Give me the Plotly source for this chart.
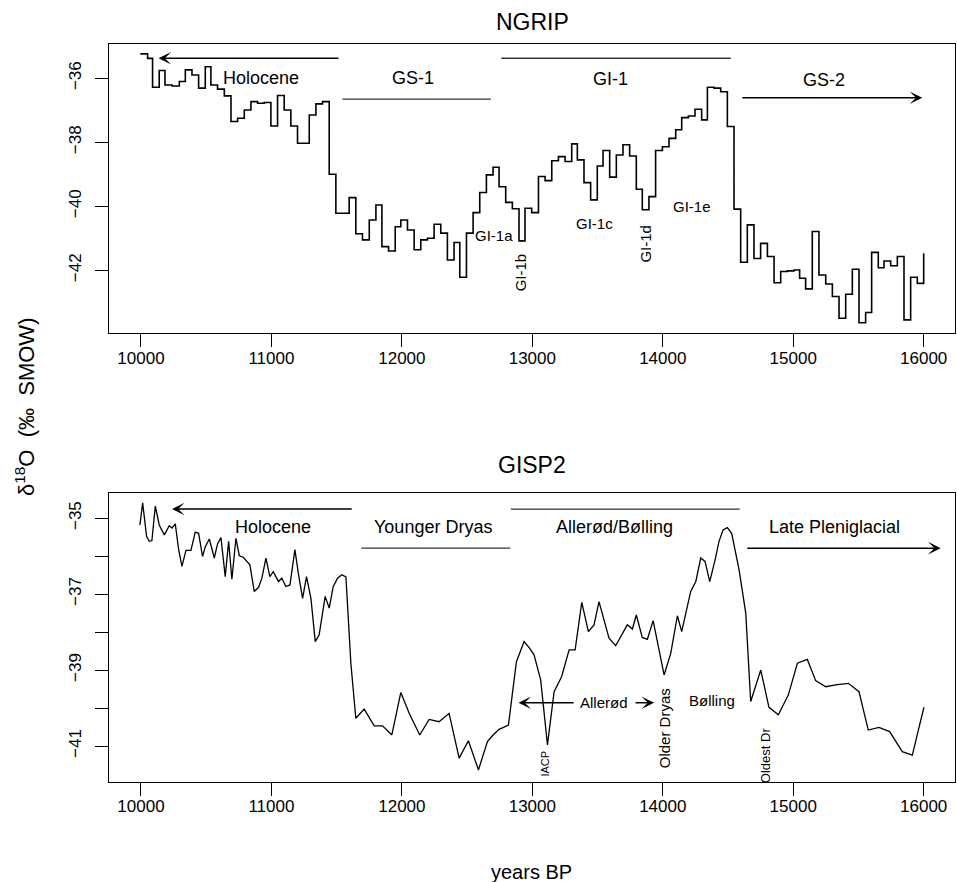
import plotly.graph_objects as go

# ---------------- data ----------------
# NGRIP step series: start year of each step and its d18O value
ngrip_years = [9995, 10051, 10089, 10140, 10184, 10238, 10294, 10340, 10391, 10442,
               10493, 10536, 10587, 10639, 10690, 10741, 10792, 10843, 10894, 10945,
               10996, 11047, 11098, 11149, 11200, 11290, 11341, 11392, 11443, 11494,
               11596, 11647, 11698, 11750, 11801, 11847, 11898, 11949, 11992, 12043,
               12094, 12145, 12196, 12247, 12298, 12349, 12400, 12444, 12495, 12546,
               12597, 12648, 12699, 12745, 12796, 12847, 12898, 12944, 12995, 13047,
               13098, 13149, 13200, 13251, 13302, 13345, 13396, 13447, 13498, 13542,
               13593, 13644, 13695, 13746, 13797, 13843, 13894, 13945, 13997, 14048,
               14099, 14145, 14196, 14247, 14298, 14342, 14393, 14444, 14495, 14546,
               14597, 14648, 14699, 14750, 14802, 14853, 14904, 14955, 15006, 15049,
               15095, 15146, 15197, 15249, 15300, 15351, 15402, 15453, 15504, 15555,
               15601, 15652, 15696, 15747, 15798, 15849, 15900, 15951, 16000]
ngrip_d18o = [-35.24, -35.38, -36.28, -35.76, -36.21, -36.24, -36.10, -35.74, -35.90, -36.31,
              -35.64, -36.21, -36.34, -36.55, -37.35, -37.25, -36.99, -36.73, -36.78, -36.76,
              -37.49, -36.54, -36.99, -37.49, -38.03, -37.15, -36.80, -36.73, -39.00, -40.22,
              -39.73, -40.86, -41.05, -40.43, -39.96, -41.26, -41.40, -40.64, -40.43, -40.74,
              -41.36, -41.05, -41.00, -40.56, -40.84, -41.68, -41.13, -42.22, -40.84, -40.20,
              -39.57, -39.02, -38.78, -39.39, -39.88, -40.08, -41.08, -40.06, -40.20, -39.07,
              -39.20, -38.58, -38.45, -38.60, -38.05, -38.55, -39.26, -39.80, -38.74, -38.26,
              -39.09, -38.40, -38.08, -38.43, -39.47, -40.11, -39.70, -38.26, -38.14, -37.88,
              -37.61, -37.23, -37.18, -36.97, -37.30, -36.28, -36.31, -36.42, -37.51, -40.09,
              -41.75, -40.58, -41.63, -41.16, -41.57, -42.39, -42.04, -42.02, -41.99, -42.25,
              -42.58, -40.79, -42.15, -42.43, -42.82, -43.50, -42.75, -41.97, -43.64, -43.32,
              -41.44, -41.92, -41.71, -41.86, -41.57, -43.55, -42.22, -42.41, -41.47]

# GISP2 series
gisp_years = [9992, 10013, 10043, 10064, 10084, 10110, 10140, 10179, 10217, 10238,
              10263, 10289, 10314, 10345, 10383, 10416, 10442, 10472, 10493, 10524,
              10562, 10587, 10613, 10646, 10672, 10697, 10728, 10754, 10784, 10835,
              10868, 10902, 10927, 10958, 10988, 11014, 11034, 11055, 11080, 11111,
              11142, 11180, 11208, 11239, 11269, 11303, 11336, 11366, 11412, 11443,
              11474, 11507, 11540, 11571, 11609, 11647, 11711, 11788, 11852, 11923,
              11992, 12056, 12137, 12209, 12285, 12362, 12439, 12510, 12587, 12656,
              12699, 12745, 12817, 12878, 12937, 12980, 13013, 13064, 13116, 13167,
              13225, 13282, 13328, 13379, 13430, 13473, 13511, 13588, 13639, 13690,
              13728, 13767, 13797, 13843, 13882, 13926, 13967, 14010, 14061, 14112,
              14145, 14176, 14214, 14253, 14291, 14324, 14360, 14401, 14431, 14462,
              14495, 14528, 14585, 14636, 14674, 14751, 14814, 14886, 14962, 15032,
              15108, 15172, 15249, 15325, 15422, 15504, 15575, 15657, 15739, 15836,
              15913, 15959, 16002]
gisp_d18o = [-35.18, -34.60, -35.48, -35.61, -35.59, -34.68, -35.18, -35.44, -35.20, -35.26,
             -35.15, -35.83, -36.27, -35.85, -35.85, -35.37, -35.40, -36.01, -35.75, -35.55,
             -36.05, -35.68, -35.51, -36.54, -35.61, -36.61, -35.53, -35.99, -36.03, -36.23,
             -36.93, -36.82, -36.58, -36.05, -36.54, -36.41, -36.54, -36.67, -36.58, -36.80,
             -36.76, -35.83, -36.49, -37.11, -36.54, -37.11, -38.25, -38.07, -37.06, -37.37,
             -36.80, -36.58, -36.49, -36.55, -38.82, -40.27, -40.03, -40.47, -40.47, -40.71,
             -39.59, -40.14, -40.71, -40.30, -40.36, -40.14, -41.32, -40.86, -41.63, -40.88,
             -40.71, -40.56, -40.45, -38.78, -38.25, -38.43, -38.60, -39.26, -40.97, -39.57,
             -39.17, -38.47, -38.47, -37.22, -37.99, -37.81, -37.20, -38.16, -38.36, -38.03,
             -37.81, -37.92, -37.55, -38.14, -38.19, -37.70, -38.43, -39.13, -38.56, -37.57,
             -37.99, -37.50, -36.93, -36.67, -36.05, -36.14, -36.67, -36.10, -35.61, -35.31,
             -35.25, -35.40, -36.36, -37.50, -39.83, -39.00, -39.98, -40.18, -39.66, -38.82,
             -38.72, -39.28, -39.44, -39.39, -39.35, -39.57, -40.58, -40.51, -40.62, -41.15,
             -41.24, -40.58, -39.98]

x_ticks = [10000, 11000, 12000, 13000, 14000, 15000, 16000]
x_ticktext = ["10000", "11000", "12000", "13000", "14000", "15000", "16000"]
ngrip_yticks = [-36, -38, -40, -42]
ngrip_yticktext = ["\u221236", "\u221238", "\u221240", "\u221242"]
gisp_yticks = [-35, -36, -37, -38, -39, -40, -41]
gisp_yticktext = ["\u221235", "", "\u221237", "", "\u221239", "", "\u221241"]

# labels: (text, year, value, angle, size)
ngrip_labels = [("Holocene", 10920, -36.0, 0, 18), ("GS-1", 12083, -36.0, 0, 18),
                ("GI-1", 13601, -36.03, 0, 18), ("GS-2", 15236, -36.05, 0, 18),
                ("GI-1a", 12707, -40.90, 0, 15), ("GI-1b", 12912, -42.07, -90, 15),
                ("GI-1c", 13474, -40.53, 0, 15), ("GI-1d", 13865, -41.16, -90, 15),
                ("GI-1e", 14222, -40.01, 0, 15)]
gisp_labels = [("Holocene", 11014, -35.24, 0, 18), ("Younger Dryas", 12240, -35.24, 0, 18),
               ("Allerød/Bølling", 13627, -35.24, 0, 18), ("Late Pleniglacial", 15313, -35.24, 0, 18),
               ("Allerød", 13548, -39.86, 0, 15), ("IACP", 13098, -41.46, -90, 11),
               ("Older Dryas", 14010, -40.53, -90, 15), ("Bølling", 14380, -39.81, 0, 15),
               ("Oldest Dr", 14784, -41.24, -90, 13)]
# arrows: (tail year, tip year, value)
ngrip_arrows = [(11525, 10135, -35.375), (14598, 15989, -36.61)]
gisp_arrows = [(11627, 10238, -34.76), (14636, 16130, -35.79),
               (13328, 12894, -39.86), (13780, 13933, -39.86)]
# plain period bars: (start year, end year, value)
ngrip_bars = [(11545, 12682, -36.65), (12763, 14521, -35.375)]
gisp_bars = [(11690, 12830, -35.79), (12835, 14590, -34.76)]

# ---------------- figure ----------------
FONT = "Liberation Sans, Arial, sans-serif"
W, H = 957, 882
fig = go.Figure()

fig.add_trace(go.Scatter(x=ngrip_years, y=ngrip_d18o, mode="lines", line_shape="hv",
                         line=dict(color="black", width=1.6), xaxis="x", yaxis="y",
                         showlegend=False, hoverinfo="skip"))
fig.add_trace(go.Scatter(x=gisp_years, y=gisp_d18o, mode="lines",
                         line=dict(color="black", width=1.3), xaxis="x2", yaxis="y2",
                         showlegend=False, hoverinfo="skip"))

xdom = [109 / W, 955 / W]
axis_common = dict(showline=True, mirror=True, linecolor="black", linewidth=1.2,
                   ticks="outside", ticklen=13, tickwidth=1.2, tickcolor="black",
                   showgrid=False, zeroline=False,
                   tickfont=dict(family=FONT, size=17, color="black"))
fig.update_layout(
    width=W, height=H, autosize=False,
    margin=dict(l=0, r=0, t=0, b=0),
    paper_bgcolor="white", plot_bgcolor="white",
    xaxis=dict(domain=xdom, range=[9755, 16240], tickvals=x_ticks, ticktext=x_ticktext,
               anchor="y", ticklabelstandoff=-4, **axis_common),
    yaxis=dict(domain=[1 - 333 / H, 1 - 44 / H], range=[-43.96, -34.93],
               tickvals=ngrip_yticks, ticktext=ngrip_yticktext, tickangle=-90, anchor="x",
               ticklabelstandoff=7, **axis_common),
    xaxis2=dict(domain=xdom, range=[9755, 16240], tickvals=x_ticks, ticktext=x_ticktext,
                anchor="y2", ticklabelstandoff=-4, **axis_common),
    yaxis2=dict(domain=[1 - 781.7 / H, 1 - 492.7 / H], range=[-41.94, -34.33],
                tickvals=gisp_yticks, ticktext=gisp_yticktext, tickangle=-90, anchor="x2",
                ticklabelstandoff=7, **axis_common),
)

ann = []
for labels, xr, yr in ((ngrip_labels, "x", "y"), (gisp_labels, "x2", "y2")):
    for t, xv, yv, ang, sz in labels:
        ann.append(dict(text=t, x=xv, y=yv, xref=xr, yref=yr, showarrow=False,
                        textangle=ang, font=dict(family=FONT, size=sz, color="black"),
                        xanchor="center", yanchor="middle"))
for arrows, xr, yr in ((ngrip_arrows, "x", "y"), (gisp_arrows, "x2", "y2")):
    for tail, tip, yv in arrows:
        ann.append(dict(text="", x=tip, y=yv, ax=tail, ay=yv, xref=xr, yref=yr,
                        axref=xr, ayref=yr, showarrow=True, arrowhead=3,
                        arrowsize=1.4, arrowwidth=1.5, arrowcolor="black"))

ann.append(dict(text="NGRIP", x=532 / W, y=1 - 21.7 / H, xref="paper", yref="paper",
                showarrow=False, font=dict(family=FONT, size=23, color="black"),
                xanchor="center", yanchor="middle"))
ann.append(dict(text="GISP2", x=532 / W, y=1 - 465 / H, xref="paper", yref="paper",
                showarrow=False, font=dict(family=FONT, size=23, color="black"),
                xanchor="center", yanchor="middle"))
ann.append(dict(text="δ<sup>18</sup>O  (‰  SMOW)", x=25 / W, y=1 - 407 / H,
                xref="paper", yref="paper", showarrow=False, textangle=-90,
                font=dict(family=FONT, size=22, color="black"),
                xanchor="center", yanchor="middle"))
ann.append(dict(text="years BP", x=531.7 / W, y=1 - 872 / H, xref="paper", yref="paper",
                showarrow=False, font=dict(family=FONT, size=20, color="black"),
                xanchor="center", yanchor="middle"))
fig.update_layout(annotations=ann)

shapes = []
for bars, xr, yr in ((ngrip_bars, "x", "y"), (gisp_bars, "x2", "y2")):
    for x0, x1, yv in bars:
        shapes.append(dict(type="line", x0=x0, x1=x1, y0=yv, y1=yv, xref=xr, yref=yr,
                           line=dict(color="#333333", width=1.3)))
fig.update_layout(shapes=shapes)

fig.write_html("out.html", config={"displayModeBar": False},
               post_script="document.body.style.margin='0px';"
                           "document.body.style.overflow='hidden';")
